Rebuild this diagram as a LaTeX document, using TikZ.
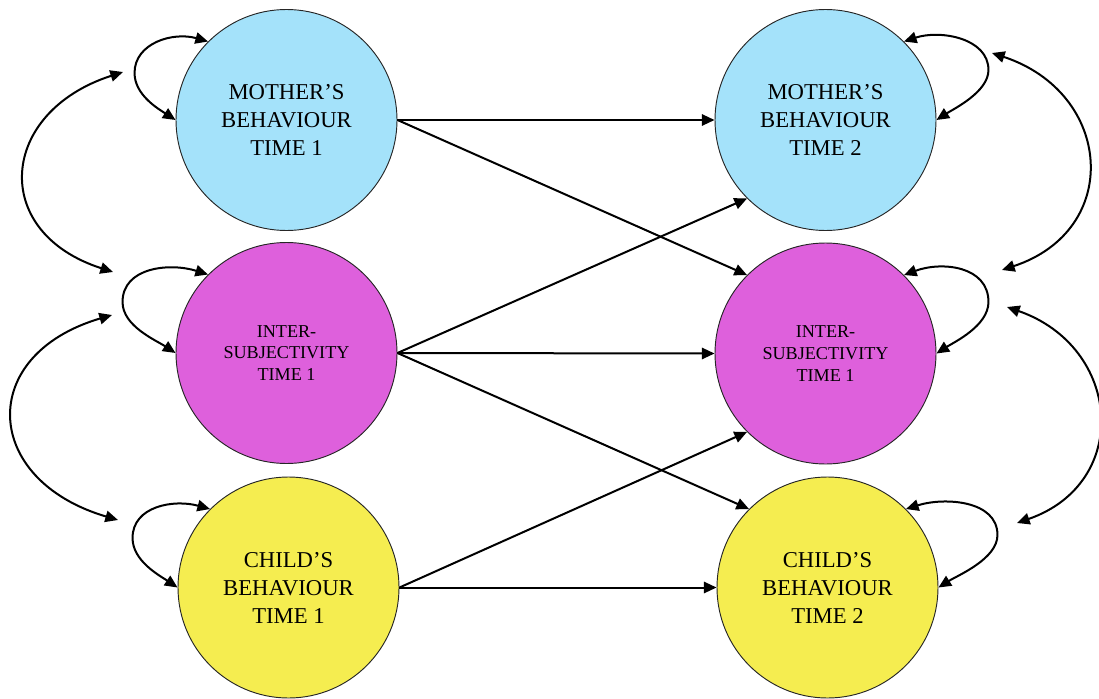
\documentclass[tikz,border=0pt]{standalone}
\usepackage{fontspec}
\setmainfont{Liberation Serif}
\usetikzlibrary{arrows.meta}
\definecolor{mumblue}{RGB}{164,226,250}
\definecolor{intermag}{RGB}{222,96,220}
\definecolor{childyel}{RGB}{245,237,80}
\begin{document}
\begin{tikzpicture}[x=0.75pt,y=-0.75pt,
  state/.style={circle,draw=black!85,line width=0.7pt,minimum size=165.75pt,inner sep=0pt,align=center},
  bigtxt/.style={font=\fontsize{17}{21}\selectfont},
  smalltxt/.style={font=\fontsize{13.6}{16.3}\selectfont},
  link/.style={line width=1.5pt,-{Triangle[length=9.5pt,width=8.5pt]}},
  both/.style={line width=1.5pt,{Triangle[length=9.5pt,width=8.5pt]}-{Triangle[length=9.5pt,width=8.5pt]}}]
\useasboundingbox (0,0) rectangle (1099,699);

% states at time 1 (left) and time 2 (right)
\node[state,fill=mumblue,bigtxt]    (m1) at (286.5,120)   {MOTHER’S\\BEHAVIOUR\\TIME 1};
\node[state,fill=intermag,smalltxt] (i1) at (286.5,353)   {INTER-\\SUBJECTIVITY\\TIME 1};
\node[state,fill=childyel,bigtxt]   (c1) at (288.5,587.5) {CHILD’S\\BEHAVIOUR\\TIME 1};
\node[state,fill=mumblue,bigtxt]    (m2) at (825.5,120)   {MOTHER’S\\BEHAVIOUR\\TIME 2};
\node[state,fill=intermag,smalltxt] (i2) at (825.5,353.5) {INTER-\\SUBJECTIVITY\\TIME 1};
\node[state,fill=childyel,bigtxt]   (c2) at (827.5,587.5) {CHILD’S\\BEHAVIOUR\\TIME 2};

% cross-lagged paths
\draw[link] (m1.east) -- (m2.west);
\draw[link] (m1.east) -- (i2.135);
\draw[link] (i1.east) -- (m2.225);
\draw[link] (i1.east) -- (i2.west);
\draw[link] (i1.east) -- (c2.135);
\draw[link] (c1.east) -- (i2.225);
\draw[link] (c1.east) -- (c2.west);

% self loops, left column
\draw[both] (m1.west) .. controls +(-17,-11) and +(0,22) .. ++(-41,-47)
            .. controls +(0,-30) and +(-35,-10) .. (m1.135);
\draw[both] (i1.west) .. controls +(-20,-13) and +(0,24) .. ++(-53,-51)
            .. controls +(0,-35) and +(-38,-12) .. (i1.135);
\draw[both] (c1.west) .. controls +(-18,-12) and +(0,23) .. ++(-45,-49.5)
            .. controls +(0,-32) and +(-36,-10) .. (c1.135);

% self loops, right column
\draw[both] (m2.east) .. controls +(17,-11) and +(0,22) .. ++(52,-50)
            .. controls +(0,-32) and +(36,-12) .. (m2.45);
\draw[both] (i2.east) .. controls +(17,-11) and +(0,24) .. ++(52,-51.5)
            .. controls +(0,-36) and +(38,-14) .. (i2.45);
\draw[both] (c2.east) .. controls +(19,-12) and +(0,24) .. ++(59,-52.5)
            .. controls +(0,-35) and +(38,-12) .. (c2.45);

% covariances between neighbouring states
\coordinate (la1) at (123,72);   \coordinate (lb1) at (113,272);
\coordinate (la2) at (112,315);  \coordinate (lb2) at (118,520);
\coordinate (ra1) at (992,53);   \coordinate (rb1) at (1002,270);
\coordinate (ra2) at (1007,307); \coordinate (rb2) at (1017,523);
\draw[both] (la1) .. controls +(-124,40) and +(-124,-40) .. (lb1);
\draw[both] (la2) .. controls +(-136,40) and +(-136,-40) .. (lb2);
\draw[both] (ra1) .. controls +(121,40) and +(121,-40) .. (rb1);
\draw[both] (ra2) .. controls +(115,40) and +(115,-40) .. (rb2);
\end{tikzpicture}
\end{document}
